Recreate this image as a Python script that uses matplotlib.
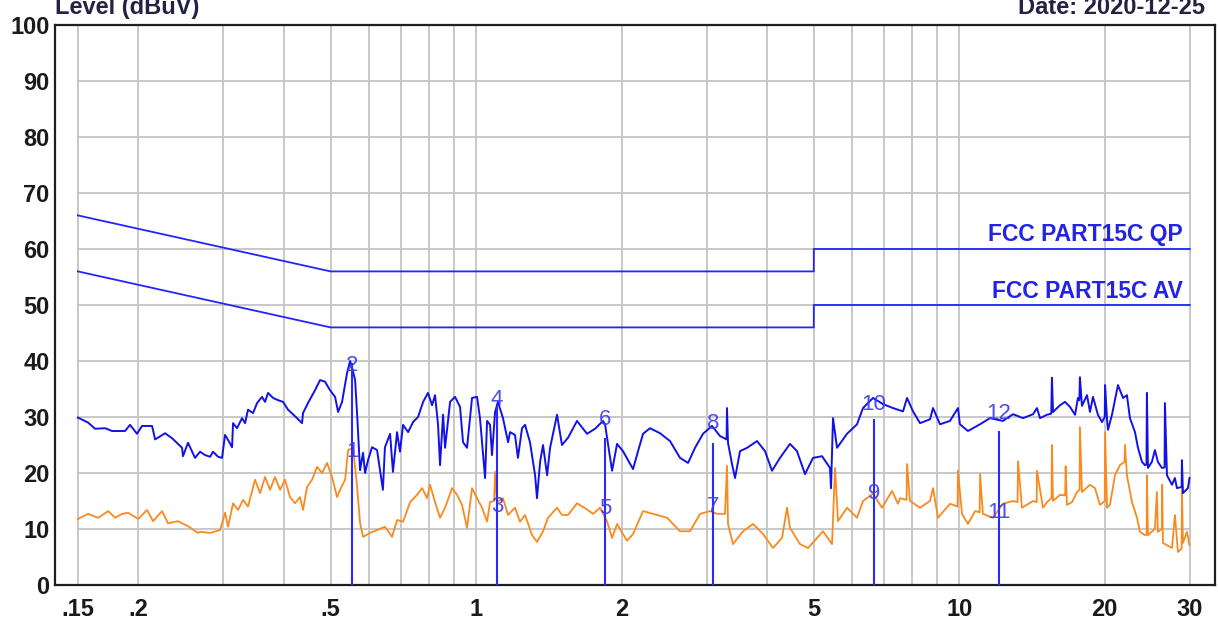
import matplotlib
matplotlib.use("Agg")
import matplotlib.pyplot as plt

# QP scan (blue)
qp_freq = [0.150, 0.1575, 0.1628, 0.1708, 0.1765, 0.1878, 0.1923, 0.1988, 0.2036, 0.2136,
           0.2167, 0.2273, 0.2350, 0.2464, 0.2475, 0.2535, 0.2621, 0.2685, 0.2750, 0.2816,
           0.2856, 0.2925, 0.2981, 0.3024, 0.3068, 0.3127, 0.3142, 0.3202, 0.3279, 0.3327,
           0.3374, 0.3456, 0.3523, 0.3607, 0.3659, 0.3712, 0.3802, 0.3894, 0.3987, 0.4083,
           0.4261, 0.4365, 0.4385, 0.4490, 0.4644, 0.4756, 0.4870, 0.4987, 0.5108, 0.5183,
           0.5282, 0.5308, 0.5410, 0.5488, 0.5540, 0.5620, 0.5674, 0.5754, 0.5837, 0.5893,
           0.5977, 0.6092, 0.6240, 0.6416, 0.6479, 0.6639, 0.6731, 0.6864, 0.6960, 0.7063,
           0.7235, 0.7408, 0.7586, 0.7771, 0.7954, 0.8110, 0.8226, 0.8344, 0.8424, 0.8546,
           0.8628, 0.8837, 0.9048, 0.9266, 0.9399, 0.9580, 0.9811, 1.0048, 1.019, 1.044,
           1.054, 1.069, 1.079, 1.095, 1.110, 1.137, 1.165, 1.176, 1.204, 1.221,
           1.245, 1.263, 1.293, 1.325, 1.337, 1.357, 1.376, 1.403, 1.423, 1.471,
           1.506, 1.550, 1.618, 1.697, 1.763, 1.831, 1.849, 1.912, 1.958, 2.014,
           2.113, 2.164, 2.216, 2.291, 2.403, 2.520, 2.643, 2.746, 2.839, 2.949,
           3.078, 3.198, 3.30, 3.306, 3.322, 3.386, 3.435, 3.518, 3.638, 3.815,
           3.963, 4.097, 4.256, 4.464, 4.615, 4.795, 4.981, 5.200, 5.401, 5.427,
           5.479, 5.585, 5.857, 6.143, 6.321, 6.629, 6.953, 7.291, 7.648, 7.796,
           8.022, 8.294, 8.699, 8.824, 9.121, 9.566, 9.938, 10.03, 10.42, 11.04,
           11.57, 12.31, 12.92, 13.55, 14.21, 14.48, 14.69, 15.19, 15.50, 15.55,
           15.63, 16.16, 16.55, 16.95, 17.36, 17.60, 17.72, 17.77, 17.94, 18.38,
           18.64, 18.91, 19.36, 19.74, 20.00, 20.03, 20.22, 20.31, 20.70, 21.30,
           21.82, 22.23, 22.55, 23.10, 23.43, 23.88, 24.22, 24.40, 24.45, 24.57,
           25.04, 25.40, 25.76, 26.26, 26.60, 26.64, 26.90, 27.55, 27.94, 28.21,
           28.85, 28.89, 29.03, 29.73, 29.95]
qp_level = [29.9, 29.0, 27.9, 28.0, 27.5, 27.5, 28.6, 27.0, 28.4, 28.4,
            26.0, 27.1, 26.2, 24.5, 23.0, 25.4, 22.7, 23.8, 23.2, 22.9,
            23.8, 22.9, 22.7, 26.8, 25.9, 24.6, 28.9, 28.0, 29.8, 28.9,
            31.3, 30.7, 32.5, 33.6, 32.7, 34.3, 33.4, 33.0, 32.7, 31.3,
            29.8, 28.9, 30.7, 32.5, 34.8, 36.6, 36.3, 34.8, 33.6, 30.9,
            32.7, 33.8, 37.9, 40.0, 38.8, 36.6, 30.5, 20.5, 23.6, 20.0,
            22.3, 24.6, 24.1, 17.0, 24.6, 27.0, 20.2, 27.3, 23.8, 28.6,
            27.3, 29.1, 30.0, 32.7, 34.3, 32.1, 33.9, 28.6, 21.4, 30.4,
            24.5, 32.7, 33.6, 31.8, 25.5, 24.5, 33.4, 33.6, 29.8, 19.1,
            29.3, 28.6, 23.2, 30.9, 32.7, 29.8, 25.5, 27.3, 26.8, 22.7,
            28.0, 28.6, 25.5, 19.6, 15.5, 22.0, 25.0, 19.6, 24.5, 30.4,
            25.0, 26.3, 29.3, 27.0, 27.9, 29.3, 28.7, 20.4, 25.2, 23.9,
            20.7, 23.9, 27.0, 28.0, 27.1, 25.7, 22.7, 21.8, 24.5, 27.0,
            28.4, 26.6, 26.0, 31.6, 25.4, 21.6, 19.1, 23.9, 24.5, 25.7,
            23.9, 20.4, 22.7, 25.2, 23.9, 19.8, 22.7, 23.0, 20.9, 17.3,
            29.8, 24.5, 27.0, 28.7, 31.6, 33.4, 32.3, 31.6, 31.0, 33.4,
            31.0, 28.9, 29.6, 31.6, 28.7, 29.3, 31.6, 28.7, 27.5, 28.7,
            29.8, 29.3, 30.5, 29.8, 30.5, 31.6, 29.8, 30.4, 30.6, 37.0,
            30.9, 32.1, 32.7, 31.8, 30.4, 33.4, 33.0, 37.1, 32.0, 33.9,
            30.9, 33.6, 30.4, 29.1, 30.0, 35.7, 29.5, 27.7, 30.4, 35.7,
            33.4, 33.9, 29.8, 27.3, 24.5, 22.0, 21.4, 21.5, 34.3, 20.9,
            22.0, 24.1, 22.0, 20.9, 21.0, 32.5, 19.6, 17.9, 19.1, 17.3,
            17.5, 22.3, 16.4, 17.3, 19.1]

# AV scan (orange)
av_freq = [0.150, 0.1575, 0.1652, 0.1733, 0.1791, 0.1851, 0.1905, 0.2000, 0.2085, 0.2146,
           0.2240, 0.2305, 0.2417, 0.2535, 0.2659, 0.2685, 0.2816, 0.2953, 0.3024, 0.3068,
           0.3142, 0.3218, 0.3295, 0.3374, 0.3488, 0.3573, 0.3659, 0.3747, 0.3837, 0.3931,
           0.4025, 0.4122, 0.4221, 0.4322, 0.4385, 0.4469, 0.4578, 0.4688, 0.4802, 0.4917,
           0.5035, 0.5157, 0.5232, 0.5359, 0.5436, 0.5566, 0.5674, 0.5754, 0.5837, 0.6035,
           0.6240, 0.6479, 0.6702, 0.6864, 0.7063, 0.7304, 0.7550, 0.7733, 0.7917, 0.8031,
           0.8226, 0.8424, 0.8628, 0.8919, 0.9135, 0.9355, 0.9580, 0.9811, 1.0048, 1.029,
           1.054, 1.069, 1.090, 1.095, 1.105, 1.137, 1.165, 1.204, 1.233, 1.263,
           1.306, 1.337, 1.376, 1.409, 1.471, 1.506, 1.550, 1.618, 1.697, 1.746,
           1.805, 1.866, 1.912, 1.958, 2.053, 2.113, 2.216, 2.324, 2.485, 2.643,
           2.772, 2.908, 3.049, 3.152, 3.275, 3.306, 3.322, 3.402, 3.569, 3.743,
           3.926, 4.117, 4.297, 4.401, 4.464, 4.682, 4.864, 5.077, 5.224, 5.453,
           5.532, 5.611, 5.857, 6.143, 6.321, 6.629, 6.920, 7.258, 7.467, 7.540,
           7.78, 7.796, 7.908, 8.294, 8.699, 8.824, 9.036, 9.566, 9.92, 9.938,
           10.13, 10.42, 10.78, 11.02, 11.04, 11.19, 11.74, 12.31, 12.92, 13.20,
           13.23, 13.48, 14.21, 14.46, 14.48, 14.90, 15.19, 15.52, 15.55, 15.63,
           16.16, 16.56, 16.60, 16.70, 17.11, 17.52, 17.74, 17.77, 17.94, 18.64,
           19.09, 19.55, 20.00, 20.03, 20.22, 20.50, 21.00, 21.50, 21.98, 22.02,
           22.23, 22.77, 23.32, 23.65, 24.22, 24.42, 24.45, 24.57, 25.40, 25.64,
           25.76, 26.26, 26.30, 26.39, 27.55, 27.94, 28.35, 28.85, 28.89, 29.03,
           29.59, 29.95]
av_level = [11.8, 12.7, 12.0, 13.2, 12.0, 12.7, 12.9, 11.8, 13.4, 11.4,
            13.2, 11.0, 11.4, 10.5, 9.3, 9.5, 9.3, 9.8, 12.9, 10.4,
            14.6, 13.4, 15.2, 14.0, 18.8, 16.4, 19.3, 17.0, 19.3, 17.0,
            18.8, 15.7, 14.6, 15.7, 13.4, 17.5, 18.8, 21.1, 20.0, 21.8,
            19.3, 15.7, 17.0, 18.8, 24.1, 24.5, 17.5, 11.1, 8.6, 9.3,
            9.8, 10.4, 8.6, 11.6, 11.3, 14.8, 16.1, 17.3, 15.5, 17.9,
            14.8, 12.0, 13.8, 17.3, 16.1, 14.3, 10.2, 17.3, 15.5, 13.8,
            11.3, 14.8, 15.0, 20.2, 14.8, 15.5, 12.5, 13.8, 11.3, 12.5,
            8.9, 7.7, 9.6, 12.0, 13.8, 12.5, 12.5, 14.6, 13.5, 12.7,
            13.8, 11.4, 8.4, 10.9, 7.9, 9.1, 13.2, 12.7, 12.0, 9.6,
            9.6, 12.7, 13.2, 12.7, 12.7, 21.3, 10.9, 7.3, 9.6, 10.9,
            9.1, 6.6, 8.4, 13.8, 10.2, 7.3, 6.6, 8.4, 9.6, 7.3,
            20.9, 11.4, 13.8, 12.0, 15.0, 16.3, 13.8, 16.8, 14.5, 15.5,
            15.2, 21.6, 15.0, 13.8, 15.0, 17.3, 12.0, 14.5, 14.0, 20.4,
            12.7, 10.9, 13.2, 13.0, 19.8, 12.7, 12.0, 14.5, 15.0, 14.8,
            22.1, 13.8, 15.0, 14.8, 20.4, 13.8, 14.8, 15.5, 25.0, 15.0,
            16.1, 16.0, 21.2, 14.3, 14.8, 16.6, 17.0, 28.2, 16.6, 17.9,
            17.3, 14.3, 15.0, 27.3, 13.8, 14.3, 19.6, 21.4, 22.0, 25.0,
            19.6, 14.8, 12.0, 9.5, 8.9, 9.0, 19.6, 8.9, 10.0, 16.6,
            9.5, 10.0, 17.9, 7.5, 6.6, 12.5, 5.9, 6.5, 17.3, 7.5,
            9.5, 7.1]

# FCC part 15C limits
lim_freq = [0.15, 0.5, 5, 5, 30]
lim_qp = [66, 56, 56, 60, 60]
lim_av = [56, 46, 46, 50, 50]

# markers: frequency, final reading (line top), label levels
mk_freq = [0.554, 1.105, 1.849, 3.10, 6.65, 12.07]
mk_top = [39.6, 31.8, 26.2, 25.4, 29.6, 27.5]
mk_av_lbl = [23.9, 14.0, 13.6, 14.1, 16.3, 12.9]
mk_qp_lbl = [39.2, 33.2, 29.6, 28.9, 32.3, 30.7]

xgrid = [0.15, 0.2, 0.3, 0.4, 0.5, 0.6, 0.7, 0.8, 0.9, 1, 2, 3, 4, 5, 6, 7, 8, 9, 10, 20, 30]
xticks = [0.15, 0.2, 0.5, 1, 2, 5, 10, 20, 30]
xticklabels = [".15", ".2", ".5", "1", "2", "5", "10", "20", "30"]

plt.rcParams['font.family'] = ['Liberation Sans', 'DejaVu Sans']

fig = plt.figure(figsize=(12.18, 6.19), dpi=100)
ax = fig.add_axes([55/1218, 1 - 585/619, 1160/1218, 560/619])
ax.set_xscale("log")
ax.set_xlim(0.1345, 33.82)
ax.set_ylim(0, 100)

gcol = "#c4c4c4"
for f in xgrid:
    ax.axvline(f, color=gcol, lw=1.3, zorder=1)
for y in range(10, 100, 10):
    ax.plot([0.15, 30], [y, y], color=gcol, lw=1.3, zorder=1)

ax.plot(lim_freq, lim_qp, color="#2424ff", lw=1.3, zorder=3)
ax.plot(lim_freq, lim_av, color="#2424ff", lw=1.3, zorder=3)
ax.text(29.0, 61.4, "FCC PART15C QP", color="#2323e6", fontsize=16.5,
        fontweight="bold", ha="right", va="baseline")
ax.text(29.0, 51.2, "FCC PART15C AV", color="#2323e6", fontsize=16.5,
        fontweight="bold", ha="right", va="baseline")

ax.plot(av_freq, av_level, color="#fa8a1e", lw=1.3, zorder=4)
ax.plot(qp_freq, qp_level, color="#1212e8", lw=1.4, zorder=5)

ax.vlines(mk_freq, 0, mk_top, color="#2a2aff", lw=1.5, zorder=6)
for i, f in enumerate(mk_freq):
    ax.text(f, mk_av_lbl[i], str(2 * i + 1), color="#3a3af0", alpha=0.9,
            fontsize=16, ha="center", va="center", zorder=7)
    ax.text(f, mk_qp_lbl[i], str(2 * i + 2), color="#3a3af0", alpha=0.9,
            fontsize=16, ha="center", va="center", zorder=7)

ax.set_xticks(xticks)
ax.set_xticklabels(xticklabels)
ax.xaxis.set_minor_locator(matplotlib.ticker.NullLocator())
ax.set_yticks(range(0, 101, 10))
ax.tick_params(length=0, labelsize=17, pad=4, colors="#1a1a1a")
ax.tick_params(axis="x", pad=9)
for lbl in ax.get_xticklabels() + ax.get_yticklabels():
    lbl.set_fontweight("bold")
for s in ax.spines.values():
    s.set_color("#1e1e1e")
    s.set_linewidth(1.6)

# header texts, partly cut off at the top edge as in the source
fig.text(55/1218, 1 - 14/619, "Level (dBuV)", fontsize=17, fontweight="bold",
         color="#222244", ha="left", va="baseline")
fig.text(1205/1218, 1 - 14/619, "Date: 2020-12-25", fontsize=17, fontweight="bold",
         color="#222244", ha="right", va="baseline")

fig.savefig("out.png", dpi=100)
